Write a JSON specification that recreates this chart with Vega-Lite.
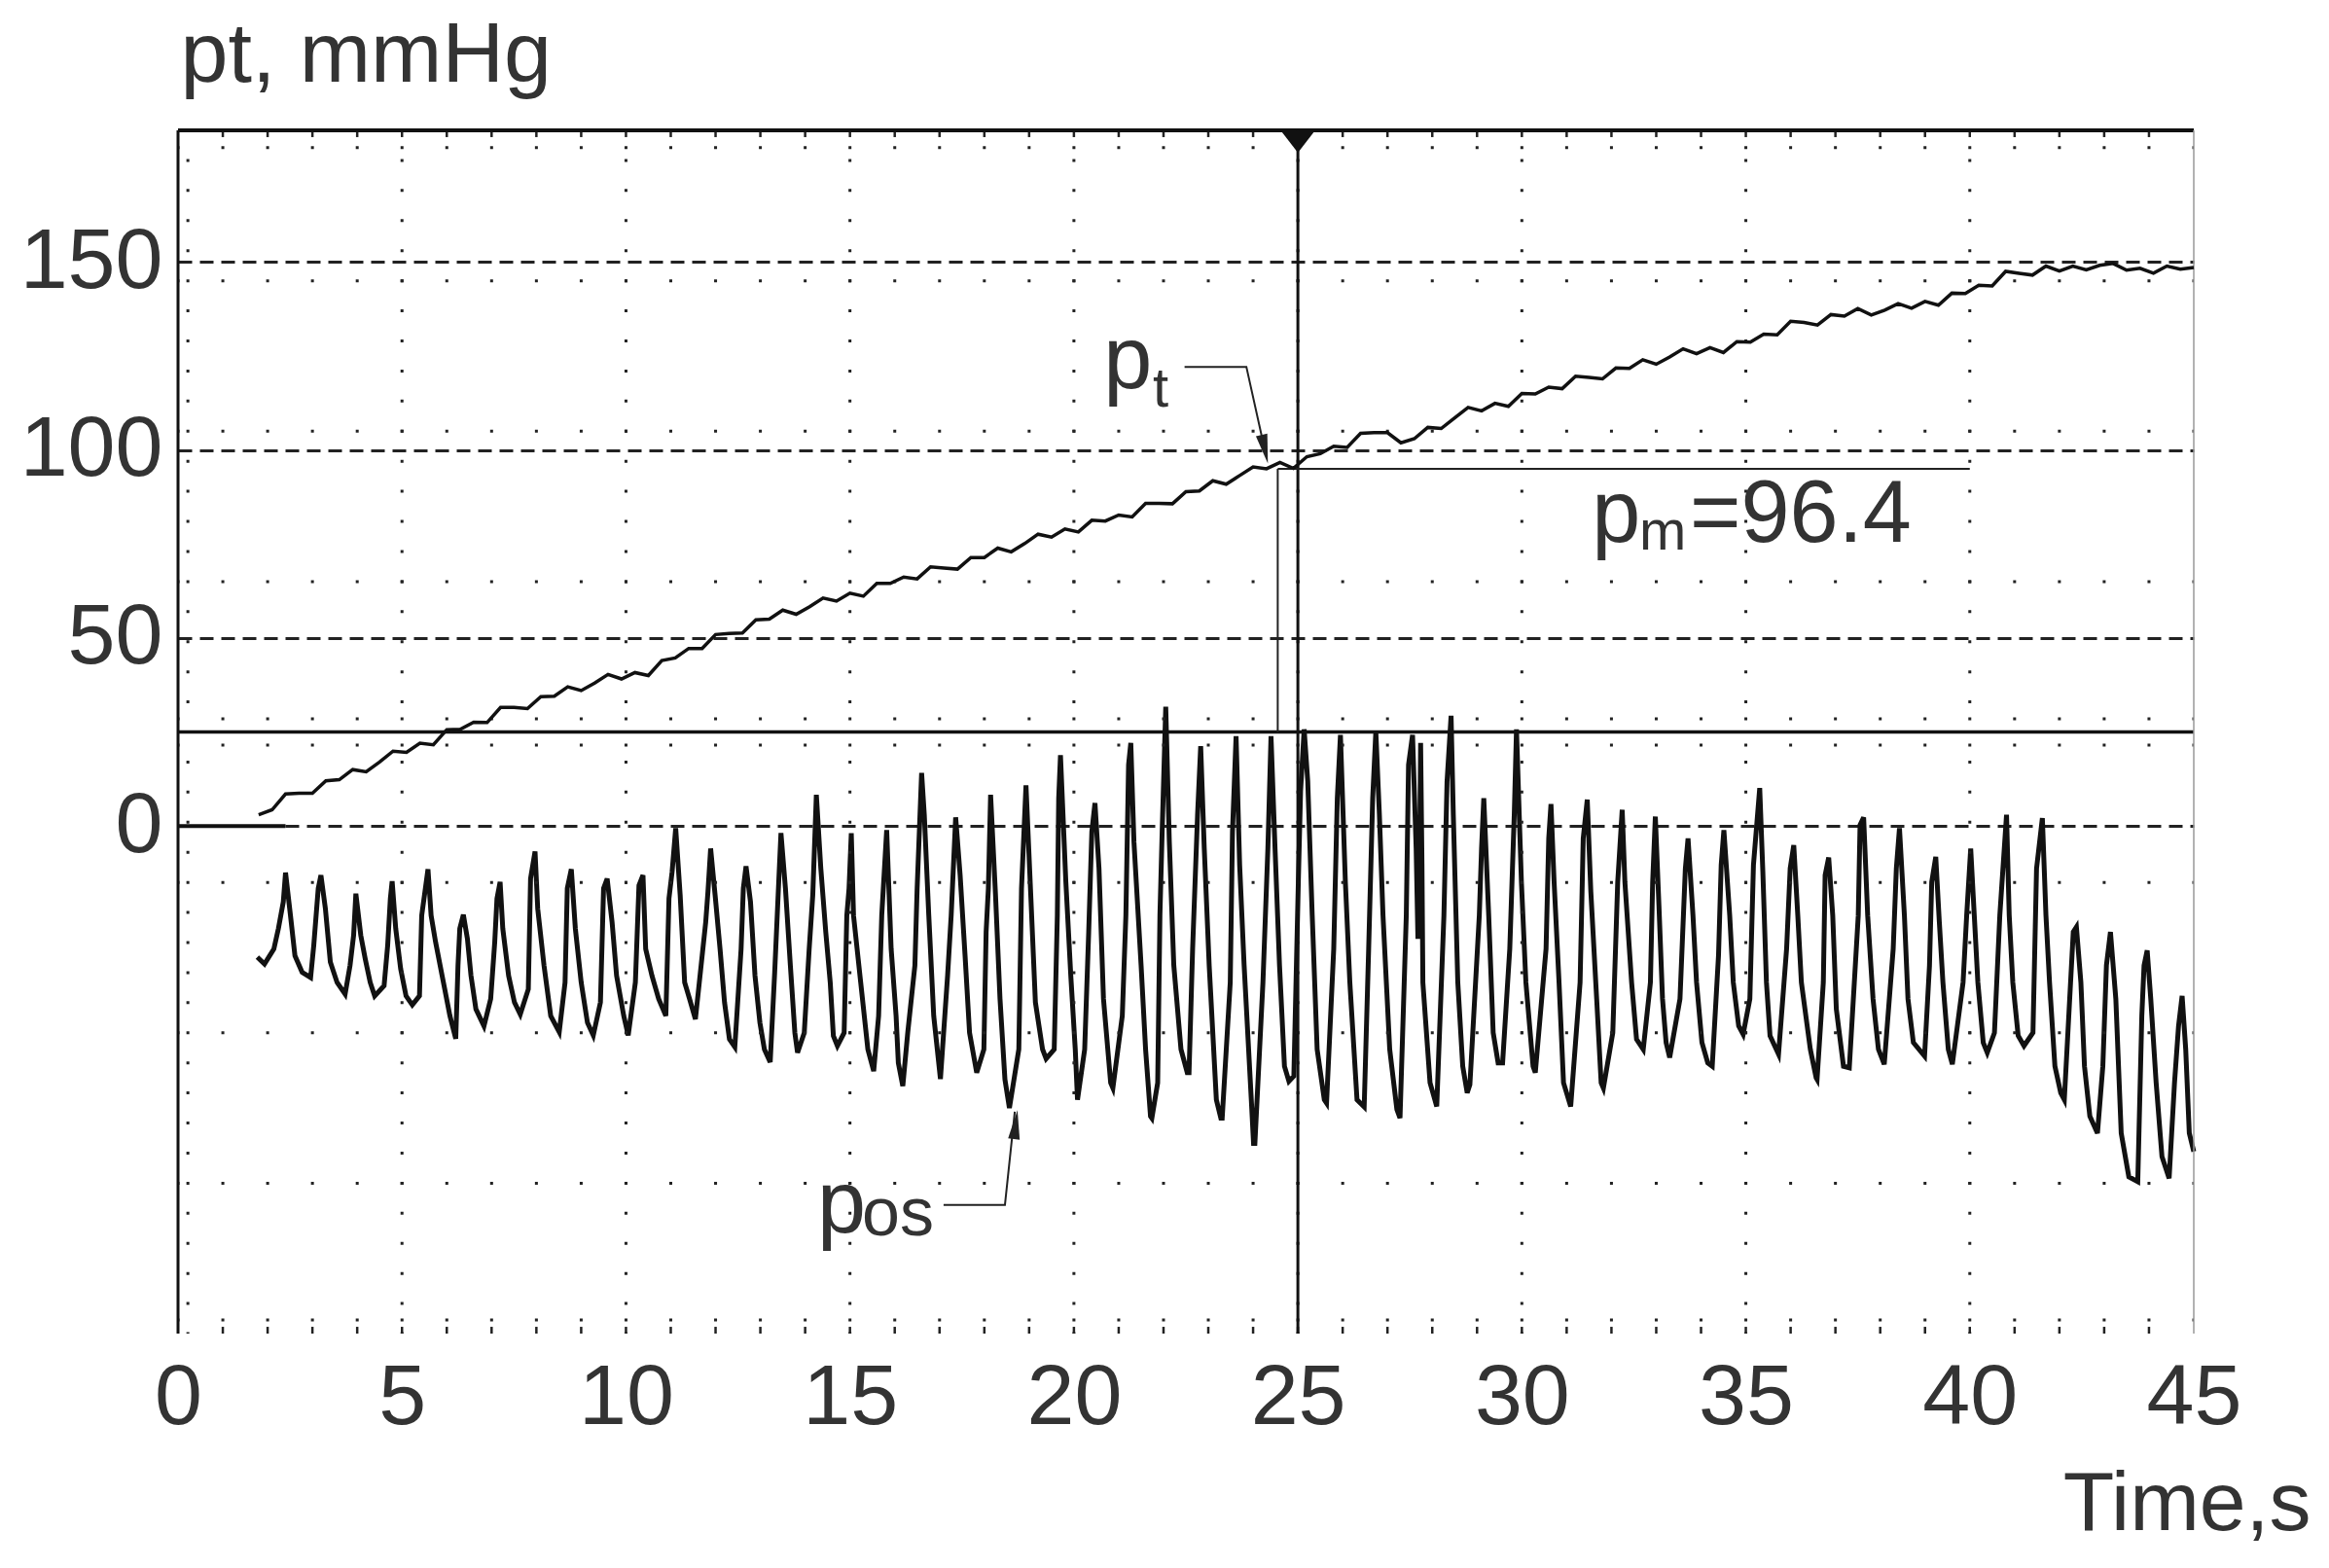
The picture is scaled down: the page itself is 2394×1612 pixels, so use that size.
{
  "$schema": "https://vega.github.io/schema/vega-lite/v6.json",
  "width": 2072,
  "height": 1237,
  "autosize": {"type": "none"},
  "padding": {"left": 183, "top": 134, "right": 139, "bottom": 241},
  "background": "white",
  "config": {"view": {"stroke": null}, "font": "Liberation Sans"},
  "datasets": {
    "cols": [{"t":0.22},{"t":5},{"t":10},{"t":15},{"t":20},{"t":25},{"t":30},{"t":35},{"t":40}],
    "rows": [{"v":180.4},{"v":145},{"v":105},{"v":65},{"v":28.5},{"v":21.5},{"v":-15},{"v":-55},{"v":-95},{"v":-131.4}],
    "secs": [{"t":1},{"t":2},{"t":3},{"t":4},{"t":5},{"t":6},{"t":7},{"t":8},{"t":9},{"t":10},{"t":11},{"t":12},{"t":13},{"t":14},{"t":15},{"t":16},{"t":17},{"t":18},{"t":19},{"t":20},{"t":21},{"t":22},{"t":23},{"t":24},{"t":25},{"t":26},{"t":27},{"t":28},{"t":29},{"t":30},{"t":31},{"t":32},{"t":33},{"t":34},{"t":35},{"t":36},{"t":37},{"t":38},{"t":39},{"t":40},{"t":41},{"t":42},{"t":43},{"t":44}],
    "one": [{}],
    "base": [{"t":0,"v":0},{"t":2.4,"v":0}],
    "pt": [{"t":1.8,"v":3.0},{"t":2.1,"v":4.3},{"t":2.4,"v":8.5},{"t":2.7,"v":8.7},{"t":3.0,"v":8.7},{"t":3.3,"v":12.0},{"t":3.6,"v":12.3},{"t":3.9,"v":15.0},{"t":4.2,"v":14.4},{"t":4.5,"v":17.0},{"t":4.8,"v":19.9},{"t":5.1,"v":19.6},{"t":5.4,"v":22.0},{"t":5.7,"v":21.6},{"t":6.0,"v":25.6},{"t":6.3,"v":25.7},{"t":6.6,"v":27.6},{"t":6.9,"v":27.5},{"t":7.2,"v":31.5},{"t":7.5,"v":31.5},{"t":7.8,"v":31.2},{"t":8.1,"v":34.4},{"t":8.4,"v":34.5},{"t":8.7,"v":37.0},{"t":9.0,"v":36.0},{"t":9.3,"v":38.0},{"t":9.6,"v":40.3},{"t":9.9,"v":39.1},{"t":10.2,"v":40.8},{"t":10.5,"v":40.0},{"t":10.8,"v":44.0},{"t":11.1,"v":44.7},{"t":11.4,"v":47.2},{"t":11.7,"v":47.2},{"t":12.0,"v":50.9},{"t":12.3,"v":51.2},{"t":12.6,"v":51.3},{"t":12.9,"v":54.8},{"t":13.2,"v":55.0},{"t":13.5,"v":57.4},{"t":13.8,"v":56.3},{"t":14.1,"v":58.3},{"t":14.4,"v":60.6},{"t":14.7,"v":59.8},{"t":15.0,"v":61.9},{"t":15.3,"v":61.1},{"t":15.6,"v":64.5},{"t":15.9,"v":64.5},{"t":16.2,"v":66.2},{"t":16.5,"v":65.7},{"t":16.8,"v":68.9},{"t":17.1,"v":68.6},{"t":17.4,"v":68.3},{"t":17.7,"v":71.4},{"t":18.0,"v":71.4},{"t":18.3,"v":73.9},{"t":18.6,"v":72.9},{"t":18.9,"v":75.1},{"t":19.2,"v":77.6},{"t":19.5,"v":76.8},{"t":19.8,"v":79.0},{"t":20.1,"v":78.2},{"t":20.4,"v":81.3},{"t":20.7,"v":81.1},{"t":21.0,"v":82.7},{"t":21.3,"v":82.2},{"t":21.6,"v":85.8},{"t":21.9,"v":85.8},{"t":22.2,"v":85.7},{"t":22.5,"v":88.9},{"t":22.8,"v":89.1},{"t":23.1,"v":91.8},{"t":23.4,"v":90.9},{"t":23.7,"v":93.2},{"t":24.0,"v":95.5},{"t":24.3,"v":95.0},{"t":24.6,"v":96.7},{"t":24.9,"v":95.1},{"t":25.2,"v":98.2},{"t":25.5,"v":99.0},{"t":25.8,"v":101.0},{"t":26.1,"v":100.7},{"t":26.4,"v":104.4},{"t":26.7,"v":104.6},{"t":27.0,"v":104.6},{"t":27.3,"v":101.9},{"t":27.6,"v":103.0},{"t":27.9,"v":106.0},{"t":28.2,"v":105.7},{"t":28.5,"v":108.5},{"t":28.8,"v":111.3},{"t":29.1,"v":110.4},{"t":29.4,"v":112.4},{"t":29.7,"v":111.6},{"t":30.0,"v":115.0},{"t":30.3,"v":114.9},{"t":30.6,"v":116.7},{"t":30.9,"v":116.3},{"t":31.2,"v":119.6},{"t":31.5,"v":119.3},{"t":31.8,"v":118.9},{"t":32.1,"v":121.8},{"t":32.4,"v":121.7},{"t":32.7,"v":124.0},{"t":33.0,"v":122.8},{"t":33.3,"v":124.7},{"t":33.6,"v":126.9},{"t":33.9,"v":125.6},{"t":34.2,"v":127.2},{"t":34.5,"v":125.9},{"t":34.8,"v":128.8},{"t":35.1,"v":128.7},{"t":35.4,"v":130.8},{"t":35.7,"v":130.6},{"t":36.0,"v":134.2},{"t":36.3,"v":133.9},{"t":36.6,"v":133.2},{"t":36.9,"v":136.0},{"t":37.2,"v":135.6},{"t":37.5,"v":137.6},{"t":37.8,"v":135.9},{"t":38.1,"v":137.2},{"t":38.4,"v":138.9},{"t":38.7,"v":137.7},{"t":39.0,"v":139.5},{"t":39.3,"v":138.5},{"t":39.6,"v":141.7},{"t":39.9,"v":141.6},{"t":40.2,"v":143.8},{"t":40.5,"v":143.6},{"t":40.8,"v":147.5},{"t":41.1,"v":147.0},{"t":41.4,"v":146.5},{"t":41.7,"v":148.9},{"t":42.0,"v":147.6},{"t":42.3,"v":148.9},{"t":42.6,"v":147.9},{"t":42.9,"v":149.1},{"t":43.2,"v":149.6},{"t":43.5,"v":147.8},{"t":43.8,"v":148.3},{"t":44.1,"v":147.0},{"t":44.4,"v":148.9},{"t":44.7,"v":148.1},{"t":45.0,"v":148.5}],
    "pos": [{"t":1.77,"v":-34.9},{"t":1.93,"v":-36.7},{"t":2.14,"v":-32.7},{"t":2.24,"v":-27.3},{"t":2.35,"v":-20.2},{"t":2.40,"v":-12.4},{"t":2.51,"v":-23.8},{"t":2.61,"v":-34.5},{"t":2.77,"v":-38.9},{"t":2.96,"v":-40.3},
      {"t":3.03,"v":-31.8},{"t":3.13,"v":-16.6},{"t":3.19,"v":-13.1},{"t":3.29,"v":-22.0},{"t":3.40,"v":-36.2},{"t":3.55,"v":-41.6},{"t":3.73,"v":-44.7},
      {"t":3.84,"v":-37.1},{"t":3.92,"v":-29.1},{"t":3.97,"v":-18.0},{"t":4.08,"v":-29.1},{"t":4.18,"v":-35.4},{"t":4.29,"v":-41.6},{"t":4.39,"v":-45.2},
      {"t":4.60,"v":-42.5},{"t":4.68,"v":-31.8},{"t":4.74,"v":-19.3},{"t":4.78,"v":-14.7},{"t":4.86,"v":-27.3},{"t":4.97,"v":-38.0},{"t":5.09,"v":-45.2},{"t":5.23,"v":-47.6},
      {"t":5.39,"v":-45.2},{"t":5.44,"v":-23.8},{"t":5.58,"v":-11.5},{"t":5.65,"v":-23.8},{"t":5.75,"v":-30.9},{"t":5.91,"v":-40.7},{"t":6.07,"v":-50.5},{"t":6.20,"v":-56.6},
      {"t":6.25,"v":-37.1},{"t":6.29,"v":-27.3},{"t":6.37,"v":-23.6},{"t":6.46,"v":-30.0},{"t":6.54,"v":-39.8},{"t":6.65,"v":-48.7},{"t":6.83,"v":-53.2},
      {"t":6.98,"v":-46.0},{"t":7.07,"v":-30.9},{"t":7.12,"v":-19.3},{"t":7.19,"v":-14.9},{"t":7.25,"v":-27.3},{"t":7.38,"v":-39.8},{"t":7.51,"v":-46.9},{"t":7.64,"v":-50.1},
      {"t":7.82,"v":-43.4},{"t":7.87,"v":-14.0},{"t":7.97,"v":-6.8},{"t":8.03,"v":-22.0},{"t":8.17,"v":-37.1},{"t":8.32,"v":-50.5},{"t":8.51,"v":-54.8},
      {"t":8.64,"v":-41.6},{"t":8.69,"v":-16.6},{"t":8.78,"v":-11.5},{"t":8.87,"v":-27.3},{"t":9.00,"v":-41.6},{"t":9.14,"v":-52.3},{"t":9.27,"v":-55.7},
      {"t":9.43,"v":-46.9},{"t":9.50,"v":-16.6},{"t":9.58,"v":-14.0},{"t":9.69,"v":-25.6},{"t":9.79,"v":-39.8},{"t":9.95,"v":-50.5},{"t":10.05,"v":-55.7},
      {"t":10.21,"v":-41.6},{"t":10.29,"v":-15.8},{"t":10.38,"v":-13.1},{"t":10.44,"v":-32.7},{"t":10.58,"v":-39.8},{"t":10.73,"v":-46.0},{"t":10.89,"v":-50.5},
      {"t":10.96,"v":-19.3},{"t":11.03,"v":-12.2},{"t":11.11,"v":-0.6},{"t":11.21,"v":-18.4},{"t":11.31,"v":-41.6},{"t":11.42,"v":-46.0},{"t":11.55,"v":-51.4},
      {"t":11.78,"v":-25.6},{"t":11.83,"v":-17.5},{"t":11.89,"v":-6.0},{"t":11.99,"v":-18.4},{"t":12.10,"v":-32.7},{"t":12.20,"v":-46.9},{"t":12.31,"v":-56.7},{"t":12.43,"v":-58.8},
      {"t":12.57,"v":-32.7},{"t":12.62,"v":-16.6},{"t":12.68,"v":-10.7},{"t":12.78,"v":-20.2},{"t":12.88,"v":-39.8},{"t":12.99,"v":-52.3},{"t":13.09,"v":-59.4},{"t":13.22,"v":-62.8},
      {"t":13.32,"v":-38.9},{"t":13.41,"v":-14.9},{"t":13.46,"v":-1.9},{"t":13.56,"v":-16.6},{"t":13.67,"v":-37.1},{"t":13.77,"v":-55.0},{"t":13.83,"v":-60.3},
      {"t":13.98,"v":-55.0},{"t":14.09,"v":-32.7},{"t":14.17,"v":-18.4},{"t":14.25,"v":8.3},{"t":14.35,"v":-11.3},{"t":14.46,"v":-28.2},{"t":14.56,"v":-41.6},{"t":14.63,"v":-55.8},{"t":14.72,"v":-58.5},
      {"t":14.87,"v":-55.0},{"t":14.93,"v":-23.8},{"t":14.98,"v":-16.6},{"t":15.03,"v":-1.9},{"t":15.08,"v":-23.8},{"t":15.24,"v":-41.6},{"t":15.40,"v":-59.4},{"t":15.53,"v":-65.2},
      {"t":15.64,"v":-50.5},{"t":15.71,"v":-23.8},{"t":15.82,"v":-1.1},{"t":15.92,"v":-32.7},{"t":16.03,"v":-50.5},{"t":16.08,"v":-63.0},{"t":16.18,"v":-69.2},
      {"t":16.29,"v":-55.0},{"t":16.45,"v":-37.1},{"t":16.50,"v":-16.6},{"t":16.60,"v":14.1},{"t":16.66,"v":3.0},{"t":16.76,"v":-23.8},{"t":16.87,"v":-50.5},{"t":17.02,"v":-67.3},
      {"t":17.18,"v":-39.8},{"t":17.26,"v":-23.8},{"t":17.36,"v":2.3},{"t":17.46,"v":-13.1},{"t":17.57,"v":-34.5},{"t":17.67,"v":-55.0},{"t":17.83,"v":-65.6},
      {"t":17.99,"v":-59.4},{"t":18.04,"v":-28.2},{"t":18.09,"v":-16.6},{"t":18.14,"v":8.3},{"t":18.25,"v":-18.4},{"t":18.35,"v":-46.0},{"t":18.46,"v":-67.4},{"t":18.56,"v":-75.0},
      {"t":18.77,"v":-59.4},{"t":18.83,"v":-16.6},{"t":18.93,"v":10.8},{"t":19.04,"v":-19.3},{"t":19.14,"v":-46.9},{"t":19.30,"v":-59.4},{"t":19.38,"v":-61.9},
      {"t":19.56,"v":-59.4},{"t":19.63,"v":-23.8},{"t":19.66,"v":7.4},{"t":19.70,"v":18.8},{"t":19.82,"v":-14.9},{"t":19.93,"v":-39.8},{"t":20.03,"v":-59.4},{"t":20.08,"v":-72.8},
      {"t":20.24,"v":-59.4},{"t":20.33,"v":-28.2},{"t":20.40,"v":-1.5},{"t":20.47,"v":6.1},{"t":20.56,"v":-11.3},{"t":20.66,"v":-46.0},{"t":20.82,"v":-68.3},{"t":20.87,"v":-69.7},
      {"t":21.08,"v":-50.5},{"t":21.16,"v":-23.8},{"t":21.22,"v":16.3},{"t":21.27,"v":22.1},{"t":21.34,"v":-4.2},{"t":21.50,"v":-37.1},{"t":21.60,"v":-59.4},{"t":21.71,"v":-77.2},{"t":21.74,"v":-77.7},
      {"t":21.87,"v":-68.3},{"t":21.92,"v":-23.8},{"t":21.97,"v":-1.5},{"t":22.05,"v":31.7},{"t":22.13,"v":-4.2},{"t":22.23,"v":-37.1},{"t":22.39,"v":-59.4},{"t":22.53,"v":-65.6},{"t":22.57,"v":-65.6},
      {"t":22.65,"v":-32.7},{"t":22.76,"v":2.9},{"t":22.83,"v":21.2},{"t":22.91,"v":-6.0},{"t":23.02,"v":-37.1},{"t":23.18,"v":-72.8},{"t":23.28,"v":-77.7},{"t":23.31,"v":-77.7},
      {"t":23.49,"v":-41.6},{"t":23.54,"v":-1.5},{"t":23.62,"v":23.9},{"t":23.70,"v":-10.4},{"t":23.80,"v":-37.1},{"t":23.96,"v":-72.8},{"t":24.01,"v":-84.4},{"t":24.04,"v":-84.4},
      {"t":24.22,"v":-41.6},{"t":24.33,"v":-6.0},{"t":24.40,"v":23.9},{"t":24.49,"v":-6.0},{"t":24.59,"v":-37.1},{"t":24.70,"v":-63.9},{"t":24.80,"v":-67.9},{"t":24.91,"v":-66.5},
      {"t":25.01,"v":-14.9},{"t":25.06,"v":9.2},{"t":25.14,"v":25.7},{"t":25.22,"v":11.9},{"t":25.32,"v":-23.8},{"t":25.43,"v":-59.4},{"t":25.59,"v":-72.8},{"t":25.64,"v":-73.7},
      {"t":25.80,"v":-32.7},{"t":25.88,"v":7.4},{"t":25.95,"v":24.2},{"t":26.06,"v":-14.9},{"t":26.16,"v":-41.6},{"t":26.32,"v":-72.8},{"t":26.48,"v":-74.7},
      {"t":26.58,"v":-32.7},{"t":26.67,"v":7.4},{"t":26.74,"v":25.1},{"t":26.82,"v":2.9},{"t":26.90,"v":-23.8},{"t":27.05,"v":-59.4},{"t":27.21,"v":-75.4},{"t":27.28,"v":-77.7},
      {"t":27.42,"v":-23.8},{"t":27.47,"v":16.3},{"t":27.56,"v":24.2},{"t":27.64,"v":-6.0},{"t":27.68,"v":-30.0},{"t":27.72,"v":-5.0},{"t":27.74,"v":22.1},{"t":27.77,"v":-10.0},{"t":27.79,"v":-41.6},{"t":27.95,"v":-68.3},{"t":28.10,"v":-74.6},
      {"t":28.26,"v":-23.8},{"t":28.33,"v":11.9},{"t":28.42,"v":29.3},{"t":28.47,"v":2.9},{"t":28.57,"v":-41.6},{"t":28.68,"v":-63.9},{"t":28.78,"v":-71.0},{"t":28.84,"v":-68.8},
      {"t":29.05,"v":-23.8},{"t":29.10,"v":-6.0},{"t":29.15,"v":7.4},{"t":29.26,"v":-23.8},{"t":29.36,"v":-55.0},{"t":29.47,"v":-63.0},{"t":29.57,"v":-63.0},
      {"t":29.73,"v":-32.7},{"t":29.83,"v":2.9},{"t":29.88,"v":25.7},{"t":29.99,"v":-14.9},{"t":30.09,"v":-41.6},{"t":30.25,"v":-63.9},{"t":30.30,"v":-65.6},
      {"t":30.54,"v":-32.7},{"t":30.60,"v":-3.3},{"t":30.65,"v":5.8},{"t":30.72,"v":-14.9},{"t":30.83,"v":-41.6},{"t":30.93,"v":-68.3},{"t":31.09,"v":-74.6},
      {"t":31.30,"v":-41.6},{"t":31.37,"v":-3.3},{"t":31.46,"v":7.0},{"t":31.54,"v":-17.5},{"t":31.67,"v":-46.0},{"t":31.77,"v":-68.3},{"t":31.82,"v":-69.7},
      {"t":32.03,"v":-55.0},{"t":32.14,"v":-14.9},{"t":32.24,"v":4.3},{"t":32.30,"v":-14.9},{"t":32.45,"v":-41.6},{"t":32.56,"v":-56.7},{"t":32.71,"v":-59.4},
      {"t":32.87,"v":-41.6},{"t":32.92,"v":-14.9},{"t":32.98,"v":2.5},{"t":33.06,"v":-21.1},{"t":33.14,"v":-46.0},{"t":33.22,"v":-57.6},{"t":33.30,"v":-61.6},
      {"t":33.53,"v":-46.0},{"t":33.65,"v":-11.3},{"t":33.71,"v":-3.3},{"t":33.82,"v":-23.8},{"t":33.90,"v":-41.6},{"t":34.02,"v":-57.6},{"t":34.15,"v":-63.0},{"t":34.25,"v":-63.9},
      {"t":34.39,"v":-34.5},{"t":34.45,"v":-10.4},{"t":34.51,"v":-1.1},{"t":34.64,"v":-23.8},{"t":34.72,"v":-41.6},{"t":34.84,"v":-53.2},{"t":34.94,"v":-55.4},
      {"t":35.09,"v":-46.0},{"t":35.17,"v":-10.4},{"t":35.31,"v":10.1},{"t":35.38,"v":-12.2},{"t":35.46,"v":-41.6},{"t":35.54,"v":-55.8},{"t":35.73,"v":-60.7},
      {"t":35.91,"v":-32.7},{"t":35.99,"v":-11.3},{"t":36.07,"v":-5.1},{"t":36.16,"v":-23.8},{"t":36.24,"v":-41.6},{"t":36.44,"v":-59.4},{"t":36.57,"v":-67.0},{"t":36.59,"v":-67.4},
      {"t":36.73,"v":-41.6},{"t":36.77,"v":-13.1},{"t":36.85,"v":-8.4},{"t":36.94,"v":-23.8},{"t":37.02,"v":-48.7},{"t":37.18,"v":-63.9},{"t":37.31,"v":-64.3},
      {"t":37.51,"v":-23.8},{"t":37.55,"v":0.3},{"t":37.63,"v":2.3},{"t":37.72,"v":-23.8},{"t":37.84,"v":-46.0},{"t":37.96,"v":-59.4},{"t":38.09,"v":-63.4},
      {"t":38.29,"v":-32.7},{"t":38.36,"v":-11.3},{"t":38.43,"v":-0.6},{"t":38.54,"v":-23.8},{"t":38.62,"v":-46.0},{"t":38.74,"v":-57.6},{"t":38.99,"v":-61.2},
      {"t":39.10,"v":-37.1},{"t":39.15,"v":-14.9},{"t":39.24,"v":-8.2},{"t":39.32,"v":-25.6},{"t":39.40,"v":-41.6},{"t":39.52,"v":-59.4},{"t":39.61,"v":-63.4},
      {"t":39.85,"v":-41.6},{"t":39.93,"v":-23.8},{"t":40.02,"v":-6.0},{"t":40.10,"v":-23.8},{"t":40.18,"v":-41.6},{"t":40.30,"v":-57.6},{"t":40.39,"v":-60.3},
      {"t":40.55,"v":-55.0},{"t":40.67,"v":-23.8},{"t":40.82,"v":3.0},{"t":40.88,"v":-23.8},{"t":40.96,"v":-41.6},{"t":41.08,"v":-55.8},{"t":41.21,"v":-58.5},
      {"t":41.41,"v":-55.0},{"t":41.49,"v":-11.3},{"t":41.62,"v":2.1},{"t":41.70,"v":-23.8},{"t":41.78,"v":-41.6},{"t":41.90,"v":-63.9},{"t":42.03,"v":-71.0},{"t":42.11,"v":-72.8},
      {"t":42.23,"v":-46.0},{"t":42.31,"v":-28.2},{"t":42.38,"v":-26.9},{"t":42.48,"v":-41.6},{"t":42.56,"v":-63.9},{"t":42.68,"v":-77.2},{"t":42.85,"v":-81.7},
      {"t":42.97,"v":-63.9},{"t":43.05,"v":-37.1},{"t":43.14,"v":-28.2},{"t":43.26,"v":-46.0},{"t":43.38,"v":-81.7},{"t":43.55,"v":-93.3},{"t":43.75,"v":-94.6},
      {"t":43.84,"v":-50.5},{"t":43.89,"v":-37.1},{"t":43.96,"v":-33.1},{"t":44.04,"v":-46.0},{"t":44.16,"v":-68.3},{"t":44.29,"v":-87.9},{"t":44.45,"v":-93.7},
      {"t":44.57,"v":-68.3},{"t":44.66,"v":-53.2},{"t":44.74,"v":-45.2},{"t":44.82,"v":-59.4},{"t":44.90,"v":-81.7},{"t":45.0,"v":-86.6}],
    "lead": [{"id":"pt","t":22.47,"v":122.1},{"id":"pt","t":23.85,"v":122.1},{"id":"pt","t":24.28,"v":99.0},{"id":"pos","t":17.09,"v":-100.8},{"id":"pos","t":18.46,"v":-100.8},{"id":"pos","t":18.68,"v":-76.0}],
    "arrpt": [{"t":24.26,"v":100.2}],
    "arrpos": [{"t":18.70,"v":-79.4}],
    "big": [{"t":20.66,"v":116.5,"s":"p"},{"t":31.56,"v":75.6,"s":"p"},{"t":33.75,"v":75.6,"s":"=96.4"},{"t":14.27,"v":-108.1,"s":"p"}],
    "sub60": [{"t":21.76,"v":111.5,"s":"t"},{"t":32.62,"v":73.5,"s":"m"}],
    "sub70": [{"t":15.27,"v":-108.8,"s":"os"}]
  },
  "layer": [
    {
      "data": {"name": "pos"},
      "mark": {"type": "line", "color": "#111", "strokeWidth": 5},
      "encoding": {
        "x": {
          "field": "t", "type": "quantitative",
          "scale": {"domain": [0, 45], "nice": false, "zero": false},
          "axis": {
            "values": [0, 5, 10, 15, 20, 25, 30, 35, 40, 45],
            "domain": false, "ticks": false, "grid": false,
            "labelFont": "Liberation Sans", "labelFontSize": 88, "labelColor": "#333",
            "labelPadding": 22, "labelFlush": false, "labelOverlap": false, "labelBound": false,
            "title": "Time,s", "titleFont": "Liberation Sans", "titleFontSize": 86, "titleFontWeight": "normal",
            "titleColor": "#333", "titleX": 2192, "titleY": 201, "titleAlign": "right", "titleBaseline": "alphabetic"
          }
        },
        "y": {
          "field": "v", "type": "quantitative",
          "scale": {"domain": [-135, 185], "nice": false, "zero": false},
          "axis": {
            "values": [0, 50, 100, 150],
            "domain": false, "ticks": false, "grid": true,
            "gridDash": [14, 8], "gridColor": "#222", "gridWidth": 3, "gridOpacity": 1,
            "labelFont": "Liberation Sans", "labelFontSize": 88, "labelColor": "#333",
            "labelPadding": 16, "labelFlush": false, "labelOverlap": false, "labelBound": false,
            "title": "pt, mmHg", "titleFont": "Liberation Sans", "titleFontSize": 88, "titleFontWeight": "normal",
            "titleColor": "#333", "titleAngle": 0, "titleX": 2, "titleY": -51, "titleAlign": "left", "titleBaseline": "alphabetic"
          }
        }
      }
    },
    {
      "data": {"name": "cols"},
      "mark": {"type": "rule", "color": "#222", "strokeWidth": 3, "strokeDash": [3, 27.925], "strokeDashOffset": 1.5, "strokeCap": "butt"},
      "encoding": {"x": {"field": "t", "type": "quantitative"}}
    },
    {
      "data": {"name": "rows"},
      "mark": {"type": "rule", "color": "#222", "strokeWidth": 3, "strokeDash": [3, 43.044], "strokeDashOffset": 1.5, "strokeCap": "butt"},
      "encoding": {"y": {"field": "v", "type": "quantitative"}}
    },
    {
      "data": {"name": "secs"},
      "mark": {"type": "rule", "color": "#222", "strokeWidth": 2.5},
      "encoding": {
        "x": {"field": "t", "type": "quantitative"},
        "y": {"datum": 185, "type": "quantitative"},
        "y2": {"datum": 183.2}
      }
    },
    {
      "data": {"name": "secs"},
      "mark": {"type": "rule", "color": "#222", "strokeWidth": 2.5},
      "encoding": {
        "x": {"field": "t", "type": "quantitative"},
        "y": {"datum": -135, "type": "quantitative"},
        "y2": {"datum": -133.2}
      }
    },
    {
      "data": {"name": "one"},
      "mark": {"type": "rule", "color": "#111", "strokeWidth": 3.5},
      "encoding": {"y": {"datum": 25, "type": "quantitative"}}
    },
    {
      "data": {"name": "one"},
      "mark": {"type": "rule", "color": "#111", "strokeWidth": 4},
      "encoding": {"y": {"datum": 185, "type": "quantitative"}}
    },
    {
      "data": {"name": "one"},
      "mark": {"type": "rule", "color": "#111", "strokeWidth": 3},
      "encoding": {"x": {"datum": 0, "type": "quantitative"}}
    },
    {
      "data": {"name": "one"},
      "mark": {"type": "rule", "color": "#999", "strokeWidth": 1.5},
      "encoding": {"x": {"datum": 45, "type": "quantitative"}}
    },
    {
      "data": {"name": "one"},
      "mark": {"type": "rule", "color": "#111", "strokeWidth": 3},
      "encoding": {"x": {"datum": 25, "type": "quantitative"}}
    },
    {
      "data": {"name": "one"},
      "mark": {"type": "point", "shape": "M-1,-0.65L1,-0.65L0,0.65Z", "filled": true, "color": "#111", "opacity": 1, "size": 1156},
      "encoding": {
        "x": {"datum": 25, "type": "quantitative"},
        "y": {"datum": 181.9, "type": "quantitative"}
      }
    },
    {
      "data": {"name": "one"},
      "mark": {"type": "rule", "color": "#222", "strokeWidth": 2},
      "encoding": {
        "x": {"datum": 24.55, "type": "quantitative"},
        "y": {"datum": 25, "type": "quantitative"},
        "y2": {"datum": 95}
      }
    },
    {
      "data": {"name": "one"},
      "mark": {"type": "rule", "color": "#222", "strokeWidth": 2},
      "encoding": {
        "x": {"datum": 24.55, "type": "quantitative"},
        "x2": {"datum": 40},
        "y": {"datum": 95, "type": "quantitative"}
      }
    },
    {
      "data": {"name": "base"},
      "mark": {"type": "line", "color": "#111", "strokeWidth": 4},
      "encoding": {
        "x": {"field": "t", "type": "quantitative"},
        "y": {"field": "v", "type": "quantitative"}
      }
    },
    {
      "data": {"name": "pt"},
      "mark": {"type": "line", "color": "#111", "strokeWidth": 3.5},
      "encoding": {
        "x": {"field": "t", "type": "quantitative"},
        "y": {"field": "v", "type": "quantitative"}
      }
    },
    {
      "data": {"name": "lead"},
      "mark": {"type": "line", "color": "#222", "strokeWidth": 2},
      "encoding": {
        "x": {"field": "t", "type": "quantitative"},
        "y": {"field": "v", "type": "quantitative"},
        "detail": {"field": "id"}
      }
    },
    {
      "data": {"name": "arrpt"},
      "mark": {"type": "point", "shape": "M0,-1L0.4,1L-0.4,1Z", "filled": true, "color": "#222", "opacity": 1, "size": 900, "angle": 167.6},
      "encoding": {
        "x": {"field": "t", "type": "quantitative"},
        "y": {"field": "v", "type": "quantitative"}
      }
    },
    {
      "data": {"name": "arrpos"},
      "mark": {"type": "point", "shape": "M0,-1L0.4,1L-0.4,1Z", "filled": true, "color": "#222", "opacity": 1, "size": 900, "angle": 7},
      "encoding": {
        "x": {"field": "t", "type": "quantitative"},
        "y": {"field": "v", "type": "quantitative"}
      }
    },
    {
      "data": {"name": "big"},
      "mark": {"type": "text", "font": "Liberation Sans", "fontSize": 90, "color": "#333", "align": "left", "baseline": "alphabetic"},
      "encoding": {
        "x": {"field": "t", "type": "quantitative"},
        "y": {"field": "v", "type": "quantitative"},
        "text": {"field": "s"}
      }
    },
    {
      "data": {"name": "sub60"},
      "mark": {"type": "text", "font": "Liberation Sans", "fontSize": 58, "color": "#333", "align": "left", "baseline": "alphabetic"},
      "encoding": {
        "x": {"field": "t", "type": "quantitative"},
        "y": {"field": "v", "type": "quantitative"},
        "text": {"field": "s"}
      }
    },
    {
      "data": {"name": "sub70"},
      "mark": {"type": "text", "font": "Liberation Sans", "fontSize": 70, "color": "#333", "align": "left", "baseline": "alphabetic"},
      "encoding": {
        "x": {"field": "t", "type": "quantitative"},
        "y": {"field": "v", "type": "quantitative"},
        "text": {"field": "s"}
      }
    }
  ]
}
